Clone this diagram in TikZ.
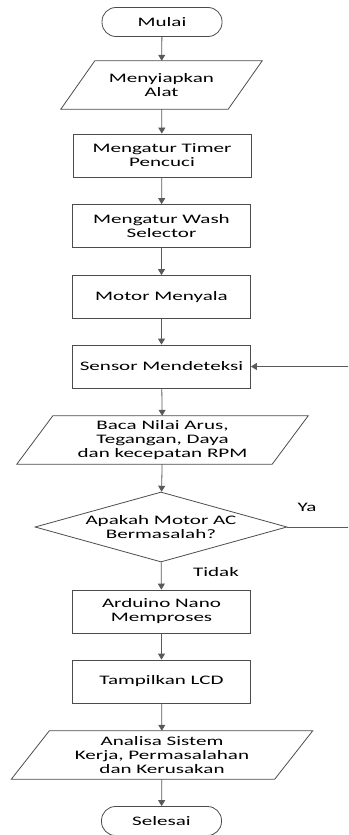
\documentclass[tikz,border=0pt]{standalone}
\usepackage{fontspec}
\setmainfont{Carlito}[FakeStretch=1.62]
\usetikzlibrary{shapes.geometric,arrows.meta}
\newcommand\paral[2]{\draw[shapeline] ([xshift=#2]#1.north west) -- ([xshift=#2]#1.north east) -- ([xshift=-#2]#1.south east) -- ([xshift=-#2]#1.south west) -- cycle;}
\begin{document}
\begin{tikzpicture}[x=1pt,y=-1pt,
  every node/.style={font=\fontsize{13}{14}\selectfont, align=center, text=black},
  shapeline/.style={draw=black!70, line width=0.8pt},
  proc/.style={shapeline, minimum width=178pt, minimum height=43pt, inner sep=0pt},
  term/.style={shapeline, rounded corners=14pt, minimum width=120pt, minimum height=29pt, inner sep=0pt},
  iobox/.style={minimum height=48pt, inner sep=0pt},
  dec/.style={diamond, shapeline, aspect=3.6, minimum width=252pt, minimum height=70pt, inner sep=0pt},
  conn/.style={draw=black!65, line width=0.8pt, -{Triangle[length=6pt,width=7pt]}},
  lbl/.style={inner sep=0pt}
]
\clip (0,0) rectangle (348,835);
\node[term] (mulai) at (162,22) {Mulai};
\node[iobox, minimum width=167pt] (siap) at (161.5,85) {Menyiapkan\\Alat};
\paral{siap}{17pt}
\node[proc] (timer) at (162,155.5) {Mengatur Timer\\Pencuci};
\node[proc] (wash) at (161.5,226) {Mengatur Wash\\Selector};
\node[proc] (motor) at (161.5,297) {Motor Menyala};
\node[proc] (sensor) at (161.5,366.5) {Sensor Mendeteksi};
\node[iobox, minimum width=255pt] (baca) at (162.5,440) {Baca Nilai Arus,\\Tegangan, Daya\\dan kecepatan RPM};
\paral{baca}{18pt}
\node[dec] (dec) at (161,527) {Apakah Motor AC\\Bermasalah?};
\node[proc] (ard) at (161.5,611.5) {Arduino Nano\\Memproses};
\node[proc] (lcd) at (161.5,681.5) {Tampilkan LCD};
\node[iobox, minimum width=263pt] (anal) at (162,755) {Analisa Sistem\\Kerja, Permasalahan\\dan Kerusakan};
\paral{anal}{19pt}
\node[term] (selesai) at (161.5,821) {Selesai};
\node[lbl] (ya) at (307,507) {Ya};
\node[lbl] (tidak) at (216,572) {Tidak};
\coordinate (fb) at (350,527);
\draw[conn] (mulai) -- (siap);
\draw[conn] (siap) -- (timer);
\draw[conn] (timer) -- (wash);
\draw[conn] (wash) -- (motor);
\draw[conn] (motor) -- (sensor);
\draw[conn] (sensor) -- (baca);
\draw[conn] (baca) -- (dec);
\draw[conn] (dec) -- (ard);
\draw[conn] (ard) -- (lcd);
\draw[conn] (lcd) -- (anal);
\draw[conn] (anal) -- (selesai);
\draw[conn] (dec.east) -- (fb) |- (sensor.east);
\end{tikzpicture}
\end{document}
